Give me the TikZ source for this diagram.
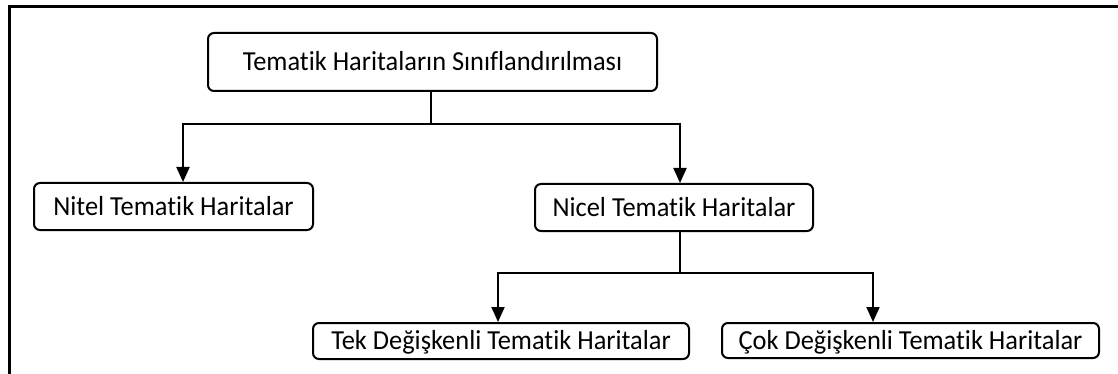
\documentclass[tikz,border=0pt]{standalone}
\usepackage{fontspec}
\setmainfont{Carlito}[FakeStretch=0.96, Ligatures=CommonOff]
\usetikzlibrary{arrows.meta}
\tikzset{
  boxnode/.style={draw=black, line width=2pt, rounded corners=6pt, inner sep=0pt,
    font=\fontsize{27.5}{32}\selectfont, text height=17.3pt, text depth=0pt},
  conn/.style={line width=2pt, -{Triangle[length=15pt,width=13pt]}},
  plainconn/.style={line width=2pt},
  frameline/.style={line width=3pt}
}
\begin{document}
\begin{tikzpicture}[x=1pt,y=-1pt]
\useasboundingbox (0,0) rectangle (1118,374);
% frame (top and left edges only)
\coordinate (ftr) at (1118,7);
\coordinate (ftl) at (9,7);
\coordinate (fbl) at (9,374);
\draw[frameline] (ftr) -- (ftl) -- (fbl);
% boxes
\node[boxnode, minimum width=449pt, minimum height=58pt] (top) at (432.5,62) {Tematik Haritaların Sınıflandırılması};
\node[boxnode, minimum width=279pt, minimum height=47pt] (nitel) at (173.5,206.5) {Nitel Tematik Haritalar};
\node[boxnode, minimum width=278pt, minimum height=47pt] (nicel) at (674,207.5) {Nicel Tematik Haritalar};
\node[boxnode, minimum width=376pt, minimum height=36pt] (tek) at (501,341) {Tek Değişkenli Tematik Haritalar};
\node[boxnode, minimum width=377pt, minimum height=35pt] (cok) at (910.5,340.5) {Çok Değişkenli Tematik Haritalar};
% junctions
\coordinate (j1) at (431,124);
\coordinate (j2) at (680,273);
% connectors
\draw[plainconn] (top.south -| j1) -- (j1);
\draw[conn] (j1) -| ([xshift=9.5pt]nitel.north);
\draw[conn] (j1) -| ([xshift=6pt]nicel.north);
\draw[plainconn] (nicel.south -| j2) -- (j2);
\draw[conn] (j2) -| ([xshift=-3pt]tek.north);
\draw[conn] (j2) -| ([xshift=-37.5pt]cok.north);
\end{tikzpicture}
\end{document}
